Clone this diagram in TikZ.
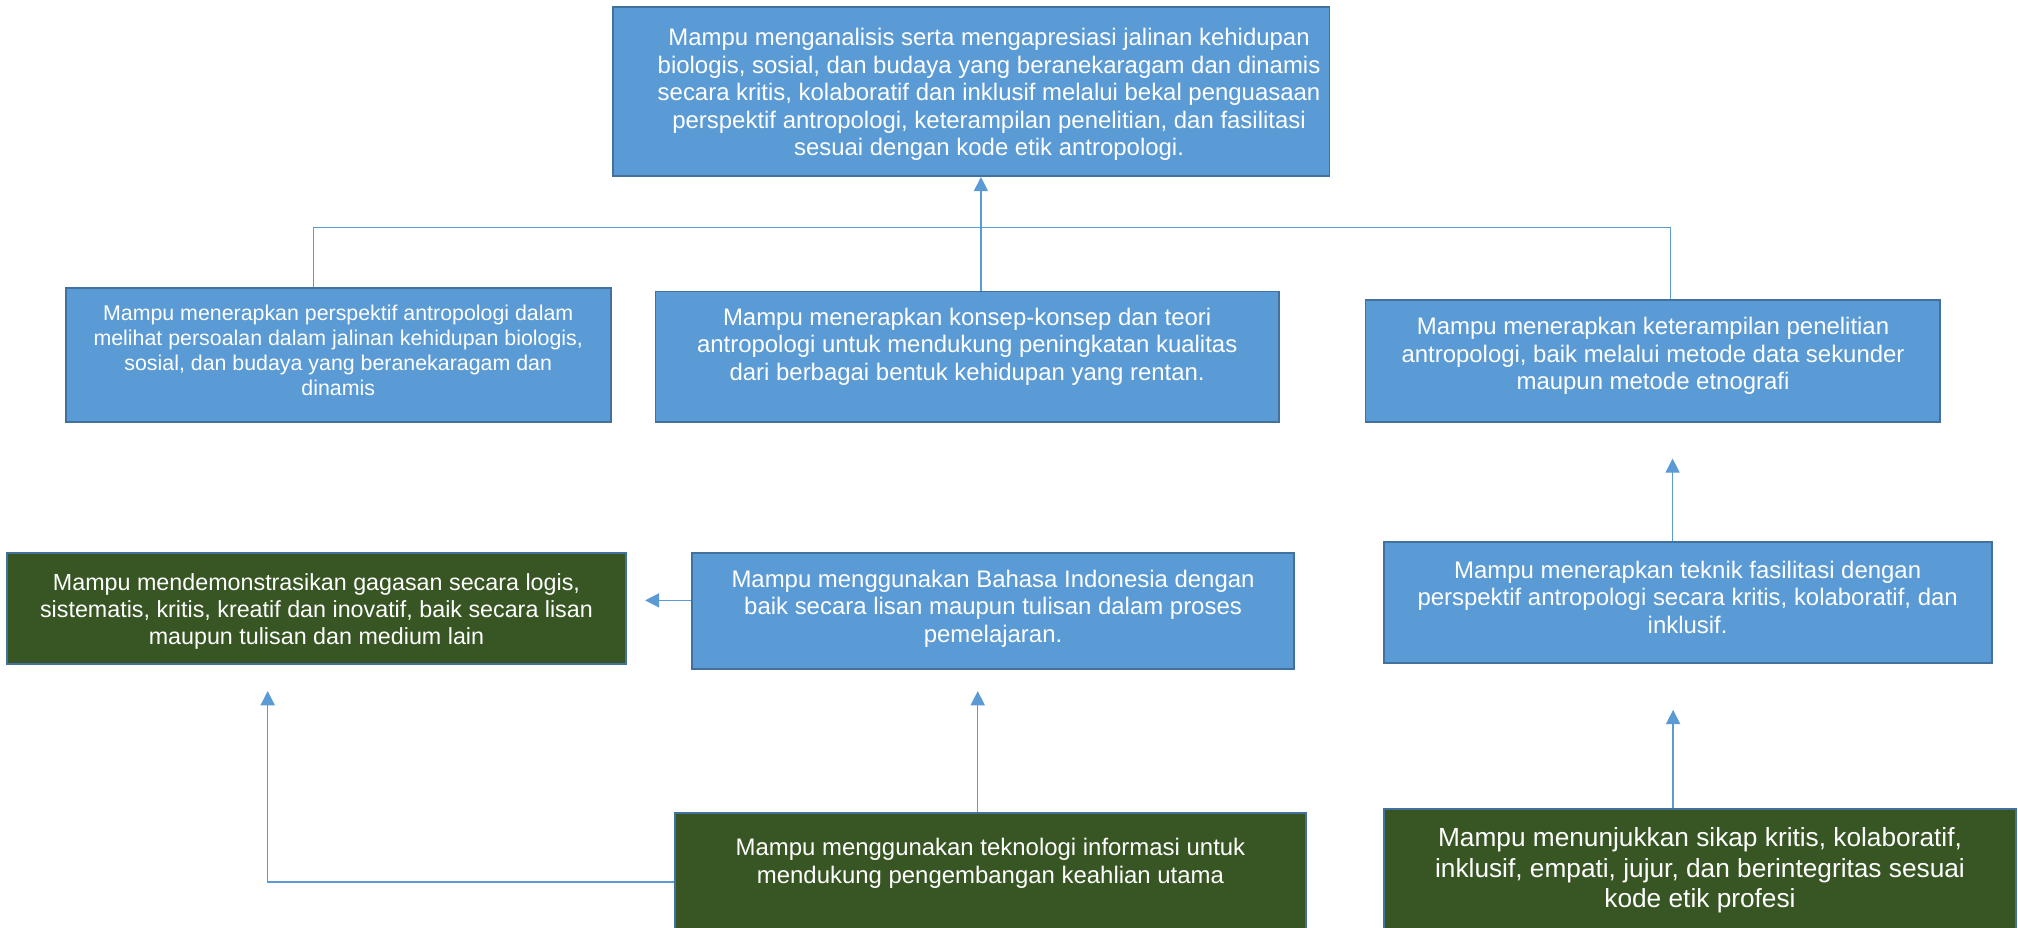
\documentclass[tikz,border=0pt]{standalone}
\usepackage{fontspec}
\setmainfont{Liberation Sans}
\usetikzlibrary{fit,arrows.meta}
\definecolor{boxblue}{HTML}{5B9BD5}
\definecolor{edgeblue}{HTML}{41719C}
\definecolor{boxgreen}{HTML}{375623}
\definecolor{linkblue}{HTML}{5B9BD5}
\begin{document}
\begin{tikzpicture}[x=0.5pt,y=-0.5pt,
  bluebox/.style={draw=edgeblue, line width=0.75pt, fill=boxblue, inner sep=0pt},
  greenbox/.style={draw=edgeblue, line width=0.75pt, fill=boxgreen, inner sep=0pt},
  lbl/.style={text=white, align=center, inner sep=0pt},
  fB/.style={font=\fontsize{8.3pt}{9.6pt}\selectfont},
  fC/.style={font=\fontsize{9.05pt}{10.4pt}\selectfont},
  fD/.style={font=\fontsize{9.3pt}{10.7pt}\selectfont},
  fE/.style={font=\fontsize{10.2pt}{11.75pt}\selectfont},
  link/.style={draw=linkblue, line width=0.5pt},
  arrowlink/.style={link, -{Triangle[length=5.5pt,width=5.5pt]}},
]
\useasboundingbox (0,0) rectangle (1568,721);
\clip (0,0) rectangle (1568,721);

% boxes
\node[bluebox, fit={(476,5.5) (1033,136.8)}] (T) {};
\node[bluebox, fit={(51,223.7) (474.5,327.8)}] (A) {};
\node[bluebox, fit={(509.3,226.5) (993.8,328.2)}] (B) {};
\node[bluebox, fit={(1061,233) (1507.7,327.7)}] (E) {};
\node[greenbox, fit={(5.2,429.4) (486.6,516.1)}] (G) {};
\node[bluebox, fit={(537.5,429.6) (1005.7,519.8)}] (C) {};
\node[bluebox, fit={(1075.4,420.9) (1547.8,515.3)}] (F) {};
\node[greenbox, fit={(524.5,631.6) (1014.7,760)}] (D) {};
\node[greenbox, fit={(1075.4,628.6) (1566.4,760)}] (H) {};

% texts
\node[lbl, fD] (Tt) at (768.5,73.4) {Mampu menganalisis serta mengapresiasi jalinan kehidupan\\biologis, sosial, dan budaya yang beranekaragam dan dinamis\\secara kritis, kolaboratif dan inklusif melalui bekal penguasaan\\perspektif antropologi, keterampilan penelitian, dan fasilitasi\\sesuai dengan kode etik antropologi.};
\node[lbl, fB] (At) at (262.8,272.2) {Mampu menerapkan perspektif antropologi dalam\\melihat persoalan dalam jalinan kehidupan biologis,\\sosial, dan budaya yang beranekaragam dan\\dinamis};
\node[lbl, fD] (Bt) at (751.5,269.2) {Mampu menerapkan konsep-konsep dan teori\\antropologi untuk mendukung peningkatan kualitas\\dari berbagai bentuk kehidupan yang rentan.};
\node[lbl, fD] (Et) at (1284.4,276.7) {Mampu menerapkan keterampilan penelitian\\antropologi, baik melalui metode data sekunder\\maupun metode etnografi};
\node[lbl, fC] (Gt) at (245.9,475.3) {Mampu mendemonstrasikan gagasan secara logis,\\sistematis, kritis, kreatif dan inovatif, baik secara lisan\\maupun tulisan dan medium lain};
\node[lbl, fD] (Ct) at (771.6,472.9) {Mampu menggunakan Bahasa Indonesia dengan\\baik secara lisan maupun tulisan dalam proses\\pemelajaran.};
\node[lbl, fD] (Ft) at (1311.3,464.2) {Mampu menerapkan teknik fasilitasi dengan\\perspektif antropologi secara kritis, kolaboratif, dan\\inklusif.};
\node[lbl, fD] (Dt) at (769.6,671) {Mampu menggunakan teknologi informasi untuk\\mendukung pengembangan keahlian utama};
\node[lbl, fE] (Ht) at (1320.9,676.2) {Mampu menunjukkan sikap kritis, kolaboratif,\\inklusif, empati, jujur, dan berintegritas sesuai\\kode etik profesi};

% connectors
\coordinate (jA) at (243.8,176.5);
\coordinate (jB) at (762.2,176.5);
\coordinate (jE) at (1298,176.5);
\draw[link] (A.north -| jA) -- (jA) -- (jE) -- (E.north -| jE);
\draw[arrowlink] (B.north -| jB) -- (T.south -| jB);

\coordinate (tipG) at (501.2,466.5);
\draw[arrowlink] (C.west |- tipG) -- (tipG);

\coordinate (tipC) at (759.7,537);
\draw[arrowlink] (D.north -| tipC) -- (tipC);

\coordinate (bend) at (208,685.3);
\coordinate (tipG2) at (208,537);
\draw[arrowlink] (D.west |- bend) -- (bend) -- (tipG2);

\coordinate (tipE) at (1299.6,356.3);
\draw[arrowlink] (F.north -| tipE) -- (tipE);

\coordinate (tipF) at (1300,551.6);
\draw[arrowlink] (H.north -| tipF) -- (tipF);
\end{tikzpicture}
\end{document}
